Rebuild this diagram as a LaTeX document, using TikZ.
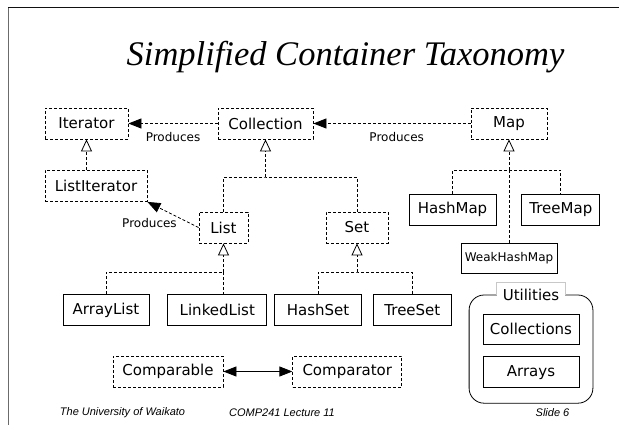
\documentclass[tikz,border=0pt]{standalone}
\usepackage{fontspec}
\setsansfont{DejaVu Sans}
\newfontfamily\titlefont{Liberation Serif}
\newfontfamily\footfont{Liberation Sans}
\usepackage{tikz}
\usetikzlibrary{arrows.meta,positioning,fit}
\definecolor{ink}{HTML}{111111}
\definecolor{rule}{HTML}{6B6B6B}
\definecolor{tab}{HTML}{C8C8C8}

\begin{document}
\begin{tikzpicture}[x=1pt,y=-1pt,every node/.style={font=\sffamily\fontsize{15}{18}\selectfont}]
\tikzstyle{box}=[draw,line width=0.8pt,minimum height=31pt,inner sep=0pt,align=center]
\tikzstyle{iface}=[box,dash pattern=on 3pt off 2pt]
\tikzstyle{dep}=[line width=0.8pt,dash pattern=on 3pt off 2pt]
\tikzstyle{gen}=[dep,-{Triangle[open,length=12pt,width=11pt]}]
\tikzstyle{prod}=[dep,-{Triangle[length=13pt,width=10pt]}]
\tikzstyle{lbl}=[font=\sffamily\fontsize{12}{14}\selectfont,inner sep=1pt]
\tikzstyle{foot}=[font=\footfont\itshape\fontsize{11}{13}\selectfont]
\useasboundingbox (0,0) rectangle (619,425);
\draw[rule,line width=1pt] (8,425) -- (8,8);
\draw[ink,line width=1pt] (8,8) -- (619,8);
\node[font=\titlefont\itshape\fontsize{34.5}{40}\selectfont,anchor=base] (title) at (345.5,65.5) {Simplified Container Taxonomy};
\node[iface,minimum width=83pt] (iter) at (86.5,123.5) {Iterator};
\node[iface,minimum width=95pt] (coll) at (265.5,123.5) {Collection};
\node[iface,minimum width=76pt] (map) at (509,123.5) {Map};
\node[iface,minimum width=102pt] (liter) at (96,186) {ListIterator};
\node[iface,minimum width=49pt] (list) at (223.5,227.5) {List};
\node[iface,minimum width=62pt] (set) at (357,227.5) {Set};
\node[box,minimum width=87pt] (hmap) at (452.5,209.5) {HashMap};
\node[box,minimum width=78pt,right=25pt of hmap] (tmap) {TreeMap};
\node[box,minimum width=96pt,minimum height=30pt,font=\sffamily\fontsize{12}{14}\selectfont] (whmap) at (509,258) {WeakHashMap};
\node[box,minimum width=86pt] (alist) at (106,310) {ArrayList};
\node[box,minimum width=99pt,right=18pt of alist] (llist) {LinkedList};
\node[box,minimum width=87pt,right=7pt of llist] (hset) {HashSet};
\node[box,minimum width=78pt,right=11pt of hset] (tset) {TreeSet};
\node[iface,minimum width=110pt] (cmpl) at (168,371.5) {Comparable};
\node[iface,minimum width=109pt,right=69pt of cmpl] (cmpr) {Comparator};
\node[box,minimum width=96pt,minimum height=30pt] (colls) at (531,329) {Collections};
\node[box,minimum width=96pt,below=12pt of colls] (arrs) {Arrays};
\coordinate (utop) at (531,310);
\node[draw,line width=0.8pt,rounded corners=15pt,inner xsep=13.5pt,inner ysep=15pt,fit=(utop)(colls)(arrs)] (util) {};
\node[fill=white,inner xsep=6pt,inner ysep=0pt,minimum height=24pt] (utl) at (util.north) {Utilities};
\draw[tab,line width=0.8pt] (utl.west |- util.north) |- (utl.north) -| (utl.east |- util.north);
\coordinate (cj) at (265.5,177);
\coordinate (mj) at (509,170);
\coordinate (lj) at (223.5,272);
\coordinate (sj) at (357,272);
\draw[prod] (coll) -- node[lbl,below=7pt] {Produces} (iter);
\draw[prod] (map) -- node[lbl,below=7pt,pos=0.47] {Produces} (coll);
\draw[prod] (list.west) -- node[lbl,pos=0.4,anchor=north east] {Produces} (liter.south east);
\draw[gen] (liter.north -| iter) -- (iter);
\draw[dep] (list.north) |- (cj) -| (set.north);
\draw[gen] (cj) -- (coll.south);
\draw[dep] (hmap.north) |- (mj) -| (tmap.north);
\draw[dep] (whmap.north) -- (mj);
\draw[gen] (mj) -- (map.south);
\draw[dep] (alist.north) |- (lj) -- (lj |- llist.north);
\draw[gen] (lj) -- (list.south);
\draw[dep] (hset.north) |- (sj) -| (tset.north);
\draw[gen] (sj) -- (set.south);
\draw[line width=0.8pt,{Triangle[length=13pt,width=10pt]}-{Triangle[length=13pt,width=10pt]}] (cmpl) -- (cmpr);
\node[foot] (uni) at (122.5,413) {The University of Waikato};
\node[foot] (lect) at (282,413) {COMP241 Lecture 11};
\node[foot] (slide) at (552.5,413) {Slide 6};
\end{tikzpicture}
\end{document}
